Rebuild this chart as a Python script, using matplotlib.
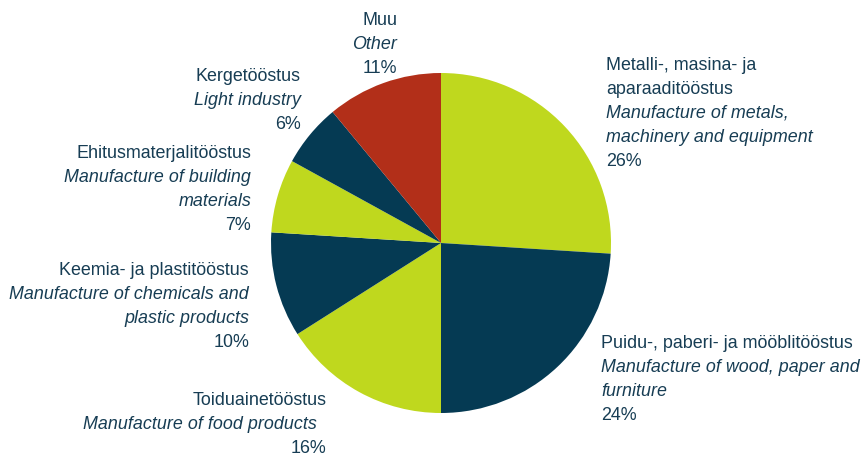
import matplotlib
matplotlib.use("Agg")
import matplotlib.pyplot as plt
from matplotlib.transforms import offset_copy

plt.rcParams['font.family'] = ['Liberation Sans', 'DejaVu Sans']

# ------------------------------------------------------------------
# data
shares = [26, 24, 16, 10, 7, 6, 11]
names_et = [
    ["Metalli-, masina- ja", "aparaaditööstus"],
    ["Puidu-, paberi- ja mööblitööstus"],
    ["Toiduainetööstus"],
    ["Keemia- ja plastitööstus"],
    ["Ehitusmaterjalitööstus"],
    ["Kergetööstus"],
    ["Muu"],
]
names_en = [
    ["Manufacture of metals,", "machinery and equipment"],
    ["Manufacture of wood, paper and", "furniture"],
    ["Manufacture of food products  "],
    ["Manufacture of chemicals and", "plastic products"],
    ["Manufacture of building", "materials"],
    ["Light industry"],
    ["Other"],
]

# styling / layout
green, navy, red = "#BFD81E", "#053A53", "#B22F19"
slice_colors = [green, navy, green, navy, green, navy, red]
text_color = "#173D54"
# label anchor (top line), in pie-radius units, and horizontal alignment
label_pos = [(0.971, 1.047), (0.942, -0.591), (-0.673, -0.924),
             (-1.129, -0.164), (-1.117, 0.526), (-0.825, 0.977),
             (-0.257, 1.31)]
label_ha = ["left", "left", "right", "right", "right", "right", "right"]

W, H = 862, 455
cx, cy, R = 441, 243, 170

fig = plt.figure(figsize=(W / 100, H / 100), dpi=100)
ax = fig.add_axes([0, 0, 1, 1])
ax.pie(shares, colors=slice_colors, startangle=90, counterclock=False,
       radius=1, wedgeprops=dict(linewidth=0))
ax.set_xlim(-cx / R, (W - cx) / R)
ax.set_ylim(-(H - cy) / R, cy / R)
ax.set_aspect("equal")
ax.axis("off")

line_h = 24  # px between lines
for i, v in enumerate(shares):
    lines = [(t, "normal") for t in names_et[i]]
    lines += [(t, "italic") for t in names_en[i]]
    lines.append((f"{v}%", "normal"))
    x, y = label_pos[i]
    for k, (txt, style) in enumerate(lines):
        tr = offset_copy(ax.transData, fig=fig, x=0, y=-k * line_h * 0.72, units="points")
        ax.text(x, y, txt, transform=tr, ha=label_ha[i], va="center",
                fontsize=12.9, style=style, color=text_color)

fig.savefig("out.png", dpi=100)
